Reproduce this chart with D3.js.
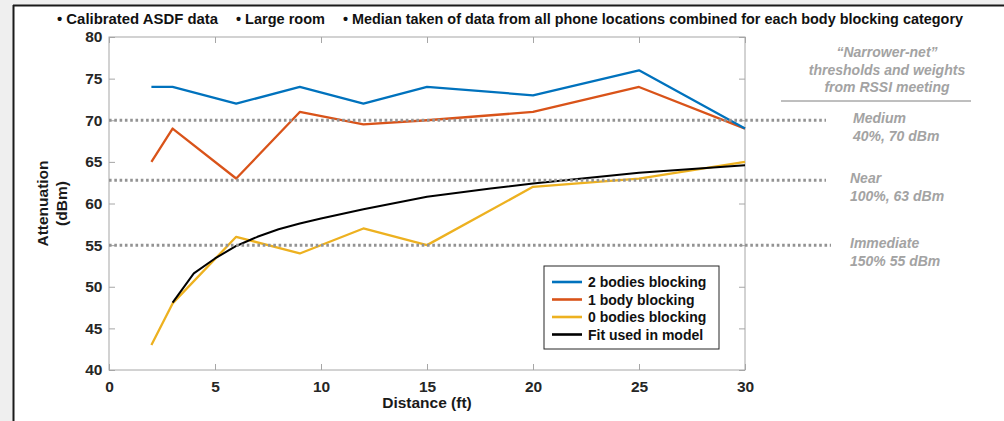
<!DOCTYPE html>
<html>
<head>
<meta charset="utf-8">
<script src="https://cdn.jsdelivr.net/npm/d3@7"></script>
<style>
  body { margin: 0; background: #efefef; }
  svg { display: block; font-family: "Liberation Sans", Arial, sans-serif; }
  .tick text { font-weight: bold; font-size: 15.5px; fill: #262626; }
</style>
</head>
<body>
<svg id="view" width="1004" height="421"></svg>
<script>
// measured distances (ft)
const distances = [2, 3, 6, 9, 12, 15, 20, 25, 30];
const twoBodies = [74, 74, 72, 74, 72, 74, 73, 76, 69];
const oneBody = [65, 69, 63, 71, 69.5, 70, 71, 74, 69];
const zeroBodies = [43, 48, 56, 54, 57, 55, 62, 63, 65];

// fit curve
const fitX = [3, 4, 5, 6, 7, 8, 9, 10, 12, 15, 18, 20, 25, 30];
const fitY = [48.1, 51.6, 53.4, 54.9, 56, 56.9, 57.6, 58.2, 59.3, 60.8, 61.8, 62.4, 63.7, 64.6];

const seriesNames = ['2 bodies blocking', '1 body blocking', '0 bodies blocking', 'Fit used in model'];
const seriesColors = ['#0072BD', '#D95319', '#EDB120', '#000000'];

const thresholds = [70, 62.8, 55];
const thresholdNames = ['Medium', 'Near', 'Immediate'];
const thresholdInfo = ['40%, 70 dBm', '100%, 63 dBm', '150% 55 dBm'];

const xTicks = [0, 5, 10, 15, 20, 25, 30];
const yTicks = [40, 45, 50, 55, 60, 65, 70, 75, 80];

const headerItems = [
    '\u2022 Calibrated ASDF data',
    '\u2022 Large room',
    '\u2022 Median taken of data from all phone locations combined for each body blocking category'
];

function init() {
    var svg = d3.select('svg#view');

    // slide frame
    svg.append('rect')
        .attr('x', 14).attr('y', 6)
        .attr('width', 990).attr('height', 415)
        .attr('fill', '#fff');
    svg.append('line')
        .attr('x1', 13.5).attr('y1', 5).attr('x2', 13.5).attr('y2', 421)
        .attr('stroke', '#1a1a1a').attr('stroke-width', 2);
    svg.append('line')
        .attr('x1', 13).attr('y1', 5.5).attr('x2', 1004).attr('y2', 5.5)
        .attr('stroke', '#1a1a1a').attr('stroke-width', 2);

    // header bullets
    var hx = [57, 236, 343];
    var hw = [161, 89, 620];
    svg.selectAll('text.header')
        .data(headerItems)
        .enter()
        .append('text')
        .attr('class', 'header')
        .attr('x', function(d, i) { return hx[i]; })
        .attr('y', 24)
        .attr('textLength', function(d, i) { return hw[i]; })
        .attr('lengthAdjust', 'spacingAndGlyphs')
        .style('font-family', '"Liberation Sans Narrow", "Liberation Sans", Arial, sans-serif')
        .style('font-weight', 'bold')
        .style('font-size', '14px')
        .attr('fill', '#111')
        .text(function(d) { return d; });

    return svg;
}

function drawChart(svg) {
    const left = 109, right = 745, top = 37, bottom = 370;

    var x = d3.scaleLinear().domain([0, 30]).range([left, right]);
    var y = d3.scaleLinear().domain([40, 80]).range([bottom, top]);

    var g = svg.append('g');

    // axes box
    g.append('rect')
        .attr('x', left).attr('y', top)
        .attr('width', right - left).attr('height', bottom - top)
        .attr('fill', 'none')
        .attr('stroke', '#a6a6a6')
        .attr('stroke-width', 1);

    var xAxis = g.append('g')
        .attr('transform', 'translate(0,' + bottom + ')')
        .call(d3.axisBottom(x).tickValues(xTicks).tickSize(-6).tickPadding(9).tickSizeOuter(0));
    var xAxisTop = g.append('g')
        .attr('transform', 'translate(0,' + top + ')')
        .call(d3.axisTop(x).tickValues(xTicks).tickSize(-6).tickFormat('').tickSizeOuter(0));
    var yAxis = g.append('g')
        .attr('transform', 'translate(' + left + ',0)')
        .call(d3.axisLeft(y).tickValues(yTicks).tickSize(-6).tickPadding(6).tickSizeOuter(0));
    var yAxisRight = g.append('g')
        .attr('transform', 'translate(' + right + ',0)')
        .call(d3.axisRight(y).tickValues(yTicks).tickSize(-6).tickFormat('').tickSizeOuter(0));

    [xAxis, xAxisTop, yAxis, yAxisRight].forEach(function(a) {
        a.select('.domain').remove();
        a.selectAll('.tick line').attr('stroke', '#a6a6a6');
    });
    xAxis.selectAll('.tick text').attr('dy', '0.85em');
    yAxis.selectAll('.tick text').attr('dx', '-0.5');

    // axis titles
    svg.append('text')
        .attr('x', (left + right) / 2)
        .attr('y', 408)
        .attr('text-anchor', 'middle')
        .style('font-weight', 'bold')
        .style('font-size', '15.5px')
        .attr('fill', '#1a1a1a')
        .text('Distance  (ft)');
    var yt = svg.append('text')
        .attr('transform', 'translate(48,' + ((top + bottom) / 2) + ') rotate(-90)')
        .attr('text-anchor', 'middle')
        .style('font-weight', 'bold')
        .style('font-size', '15.5px')
        .attr('fill', '#1a1a1a');
    yt.append('tspan').attr('x', 0).attr('y', 0).text('Attenuation');
    yt.append('tspan').attr('x', 0).attr('y', 19).text('(dBm)');

    // threshold dotted lines
    svg.selectAll('line.threshold')
        .data(thresholds)
        .enter()
        .append('line')
        .attr('class', 'threshold')
        .attr('x1', left)
        .attr('x2', function(d, i) { return i === 2 ? 831 : 826; })
        .attr('y1', function(d) { return y(d); })
        .attr('y2', function(d) { return y(d); })
        .attr('stroke', '#939393')
        .attr('stroke-width', 3)
        .attr('stroke-dasharray', '2.6,2.7');

    // data lines
    var line = d3.line()
        .x(function(d) { return x(d[0]); })
        .y(function(d) { return y(d[1]); });

    var series = [
        d3.zip(distances, twoBodies),
        d3.zip(distances, oneBody),
        d3.zip(distances, zeroBodies),
        d3.zip(fitX, fitY)
    ];

    g.selectAll('path.series')
        .data([2, 1, 0, 3])
        .enter()
        .append('path')
        .attr('class', 'series')
        .attr('d', function(i) { return line(series[i]); })
        .attr('fill', 'none')
        .attr('stroke', function(i) { return seriesColors[i]; })
        .attr('stroke-width', function(i) { return i === 3 ? 2 : 2.3; })
        .attr('stroke-linejoin', 'round');

    // legend
    var lg = svg.append('g').attr('transform', 'translate(544,266)');
    lg.append('rect')
        .attr('width', 175).attr('height', 83)
        .attr('fill', '#fff')
        .attr('stroke', '#262626')
        .attr('stroke-width', 1);
    var items = lg.selectAll('g.item')
        .data(seriesNames)
        .enter()
        .append('g')
        .attr('class', 'item')
        .attr('transform', function(d, i) { return 'translate(0,' + (16 + i * 17.5) + ')'; });
    items.append('line')
        .attr('x1', 8).attr('x2', 38)
        .attr('stroke', function(d, i) { return seriesColors[i]; })
        .attr('stroke-width', 2.6);
    items.append('text')
        .attr('x', 44)
        .attr('y', 5)
        .style('font-weight', 'bold')
        .style('font-size', '14px')
        .attr('fill', '#111')
        .text(function(d) { return d; });

    // annotations on the right
    var note = svg.append('g')
        .style('font-weight', 'bold')
        .style('font-style', 'italic')
        .style('font-size', '14px')
        .attr('fill', '#a3a3a3');
    ['\u201CNarrower-net\u201D', 'thresholds and weights', 'from RSSI meeting'].forEach(function(t, i) {
        note.append('text')
            .attr('x', 887)
            .attr('y', 57 + i * 17.5)
            .attr('text-anchor', 'middle')
            .text(t);
    });
    svg.append('line')
        .attr('x1', 781).attr('x2', 971)
        .attr('y1', 101).attr('y2', 101)
        .attr('stroke', '#7f7f7f')
        .attr('stroke-width', 1);

    var tl = note.selectAll('g.tlabel')
        .data(thresholds)
        .enter()
        .append('g')
        .attr('class', 'tlabel')
        .attr('transform', function(d, i) {
            return 'translate(' + (i === 0 ? 853 : 850) + ',' + (y(d) + 3) + ')';
        });
    tl.append('text')
        .attr('y', 0)
        .text(function(d, i) { return thresholdNames[i]; });
    tl.append('text')
        .attr('y', 18)
        .text(function(d, i) { return thresholdInfo[i]; });
}

function start() {
    var svg = init();
    drawChart(svg);
}

document.ready = start();
</script>
</body>
</html>
